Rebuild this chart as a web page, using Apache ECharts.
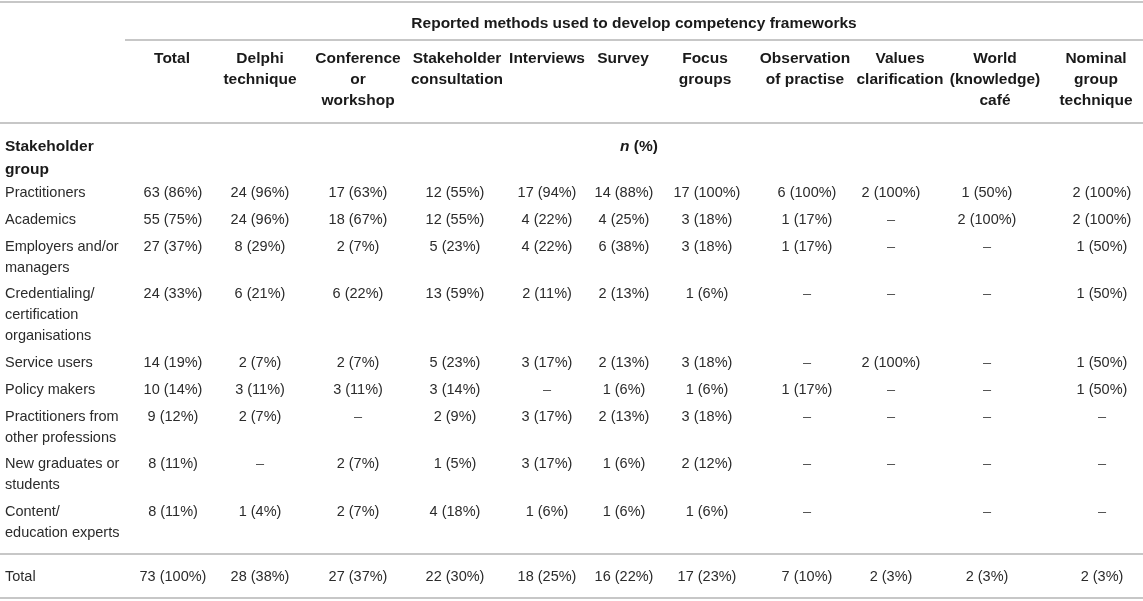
<!DOCTYPE html>
<html>
<head>
<meta charset="utf-8">
<script src="https://cdn.jsdelivr.net/npm/echarts@6/dist/echarts.min.js"></script>
<style>
html,body{margin:0;padding:0;background:#fff;}
#c{width:1143px;height:601px;}
</style>
</head>
<body>
<div id="c"></div>
<script>
// ---------- DATA ----------
const title = "Reported methods used to develop competency frameworks";
const rowHeader = "Stakeholder\ngroup";
const groups = [
  "Practitioners",
  "Academics",
  "Employers and/or\nmanagers",
  "Credentialing/\ncertification\norganisations",
  "Service users",
  "Policy makers",
  "Practitioners from\nother professions",
  "New graduates or\nstudents",
  "Content/\neducation experts"
];
const methods = [
  "Total",
  "Delphi\ntechnique",
  "Conference\nor\nworkshop",
  "Stakeholder\nconsultation",
  "Interviews",
  "Survey",
  "Focus\ngroups",
  "Observation\nof practise",
  "Values\nclarification",
  "World\n(knowledge)\ncafé",
  "Nominal\ngroup\ntechnique"
];
// counts n, null = "–"
const counts = [
  [63, 24, 17, 12, 17, 14, 17, 6, 2, 1, 2],
  [55, 24, 18, 12, 4, 4, 3, 1, null, 2, 2],
  [27, 8, 2, 5, 4, 6, 3, 1, null, null, 1],
  [24, 6, 6, 13, 2, 2, 1, null, null, null, 1],
  [14, 2, 2, 5, 3, 2, 3, null, 2, null, 1],
  [10, 3, 3, 3, null, 1, 1, 1, null, null, 1],
  [9, 2, null, 2, 3, 2, 3, null, null, null, null],
  [8, null, 2, 1, 3, 1, 2, null, null, null, null],
  [8, 1, 2, 4, 1, 1, 1, null, null, null, null]
];
// percentages (%)
const percents = [
  [86, 96, 63, 55, 94, 88, 100, 100, 100, 50, 100],
  [75, 96, 67, 55, 22, 25, 18, 17, null, 100, 100],
  [37, 29, 7, 23, 22, 38, 18, 17, null, null, 50],
  [33, 21, 22, 59, 11, 13, 6, null, null, null, 50],
  [19, 7, 7, 23, 17, 13, 18, null, 100, null, 50],
  [14, 11, 11, 14, null, 6, 6, 17, null, null, 50],
  [12, 7, null, 9, 17, 13, 18, null, null, null, null],
  [11, null, 7, 5, 17, 6, 12, null, null, null, null],
  [11, 4, 7, 18, 6, 6, 6, null, null, null, null]
];
// cells left empty (row, column)
const blankCells = [[8, 8]];
const totalLabel = "Total";
const totalCounts = [73, 28, 27, 22, 18, 16, 17, 7, 2, 2, 2];
const totalPercents = [100, 38, 37, 30, 25, 22, 23, 10, 3, 3, 3];

// ---------- LAYOUT ----------
const W = 1143, H = 601;
const headX = [172, 260, 358, 457, 547, 623, 705, 805, 900, 995, 1096];
const dataX = [173, 260, 358, 455, 547, 624, 707, 807, 891, 987, 1102];
const labelX = 5;
const titleY = 24, headY = 59, headLH = 21;
const subY = 147, subLH = 23;
const bodyStartY = 193, bodyGap = 26.75, bodyLH = 21;
const totalY = 577;
const rules = [[0, W, 2], [125, W, 40], [0, W, 123], [0, W, 554], [0, W, 598]];
const FONT = '"Liberation Sans", Arial, Helvetica, sans-serif';
const bodySize = 14.5, headSize = 15.5;
const bodyColor = '#2b2b2b', headColor = '#1a1a1a', ruleColor = '#b5b5b5';

// ---------- BUILD CELLS ----------
const cells = [];
function add(x, y, text, opt) {
  cells.push(Object.assign({x: x, y: y, text: text, align: 'center', bold: false, size: bodySize, lh: bodyLH, color: bodyColor}, opt || {}));
}
add((125 + W) / 2, titleY, title, {bold: true, size: headSize, color: headColor});
methods.forEach((m, j) => add(headX[j], headY, m, {bold: true, size: headSize, lh: headLH, color: headColor}));
add(labelX, subY, rowHeader, {align: 'left', bold: true, size: headSize, lh: subLH, color: headColor});
add(620, subY, '{i|n} (%)', {align: 'left', bold: true, size: headSize, color: headColor, rich: true});
const isBlank = (i, j) => blankCells.some(b => b[0] === i && b[1] === j);
let y = bodyStartY;
groups.forEach((g, i) => {
  add(labelX, y, g, {align: 'left'});
  counts[i].forEach((n, j) => {
    if (isBlank(i, j)) return;
    const t = (n === null) ? '–' : n + ' (' + percents[i][j] + '%)';
    add(dataX[j], y, t, n === null ? {color: '#555'} : {});
  });
  y += bodyGap + (g.split('\n').length - 1) * bodyLH;
});
add(labelX, totalY, totalLabel, {align: 'left'});
totalCounts.forEach((n, j) => add(dataX[j], totalY, n + ' (' + totalPercents[j] + '%)'));

const chart = echarts.init(document.getElementById('c'), null, {renderer: 'canvas'});
chart.setOption({
  backgroundColor: '#ffffff',
  animation: false,
  grid: {left: 0, right: 0, top: 0, bottom: 0},
  xAxis: {type: 'value', min: 0, max: W, show: false},
  yAxis: {type: 'value', min: 0, max: H, inverse: true, show: false},
  series: [
    {
      type: 'custom',
      clip: false,
      silent: true,
      data: rules.map((r, i) => [r[0], r[2], i]),
      renderItem: function (params, api) {
        const r = rules[api.value(2)];
        const a = api.coord([r[0], r[2]]);
        const b = api.coord([r[1], r[2]]);
        return {type: 'line', shape: {x1: a[0], y1: a[1], x2: b[0], y2: b[1]},
          style: {stroke: ruleColor, lineWidth: 1.6}};
      }
    },
    {
      type: 'custom',
      clip: false,
      silent: true,
      data: cells.map((c, i) => [c.x, c.y, i]),
      renderItem: function (params, api) {
        const c = cells[api.value(2)];
        const p = api.coord([c.x, c.y - c.lh / 2]);
        const style = {
          text: c.text, x: 0, y: 0,
          align: c.align, verticalAlign: 'top',
          fontFamily: FONT, fontSize: c.size,
          fontWeight: c.bold ? 'bold' : 'normal',
          lineHeight: c.lh, fill: c.color
        };
        if (c.rich) style.rich = {i: {fontStyle: 'italic', fontWeight: 'bold', fontFamily: FONT, fontSize: c.size, fill: c.color, lineHeight: c.lh}};
        return {type: 'text', x: p[0], y: p[1], style: style};
      }
    }
  ]
});
</script>
</body>
</html>
